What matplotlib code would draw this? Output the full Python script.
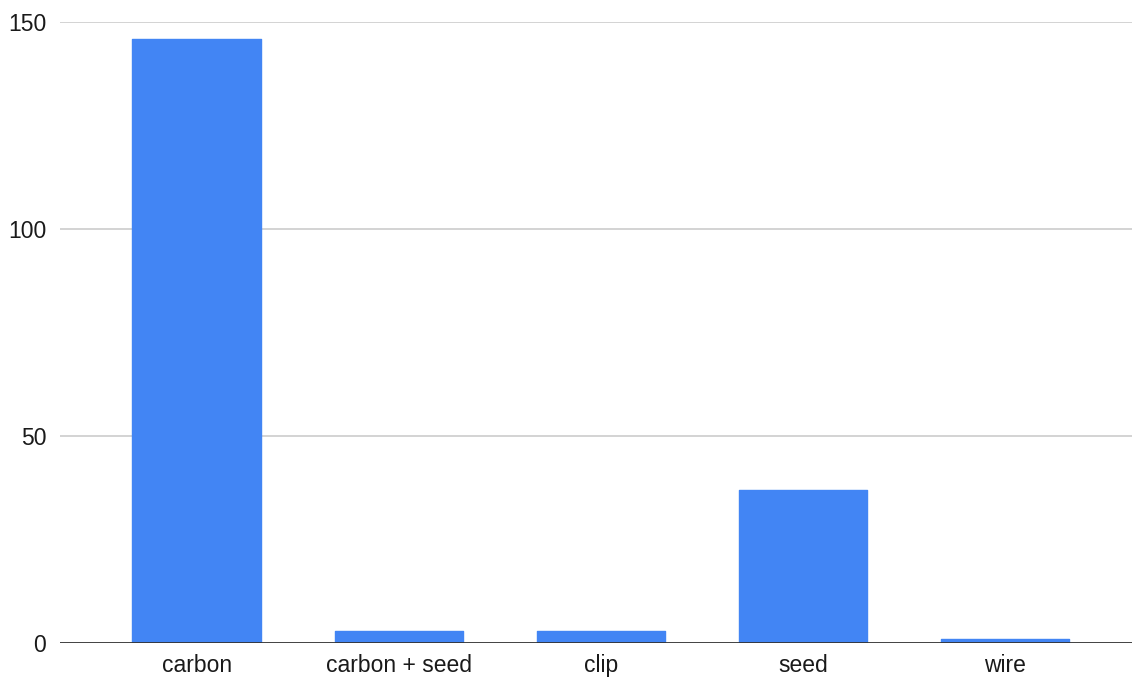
import matplotlib
matplotlib.use('Agg')
import matplotlib.pyplot as plt

categories = ['carbon', 'carbon + seed', 'clip', 'seed', 'wire']
counts = [146, 3, 3, 37, 1]
y_ticks = [0, 50, 100, 150]

plt.rcParams['font.family'] = ['Liberation Sans', 'DejaVu Sans']

fig = plt.figure(figsize=(11.32, 6.81), dpi=100)
ax = fig.add_axes([60 / 1132, 38 / 681, 1 - 60 / 1132, 621 / 681])

x = range(len(categories))
ax.bar(x, counts, width=0.635, color='#4285F4', edgecolor='#4285F4',
       linewidth=1.0, joinstyle='round', zorder=3)

ax.set_xlim(-0.676, 4.629)
ax.set_ylim(0, 150)
ax.set_yticks(y_ticks)
ax.set_xticks(list(x))
ax.set_xticklabels(categories)

for yv in y_ticks[1:]:
    ax.axhline(yv, color='#cccccc', linewidth=1.2, zorder=1)
ax.axhline(0, color='#333333', linewidth=1.3, zorder=4)

for s in ax.spines.values():
    s.set_visible(False)
ax.tick_params(axis='both', length=0, labelsize=16.5, colors='#1a1a1a')
ax.tick_params(axis='y', pad=10)
ax.tick_params(axis='x', pad=8)

fig.savefig('out.png', dpi=100)
